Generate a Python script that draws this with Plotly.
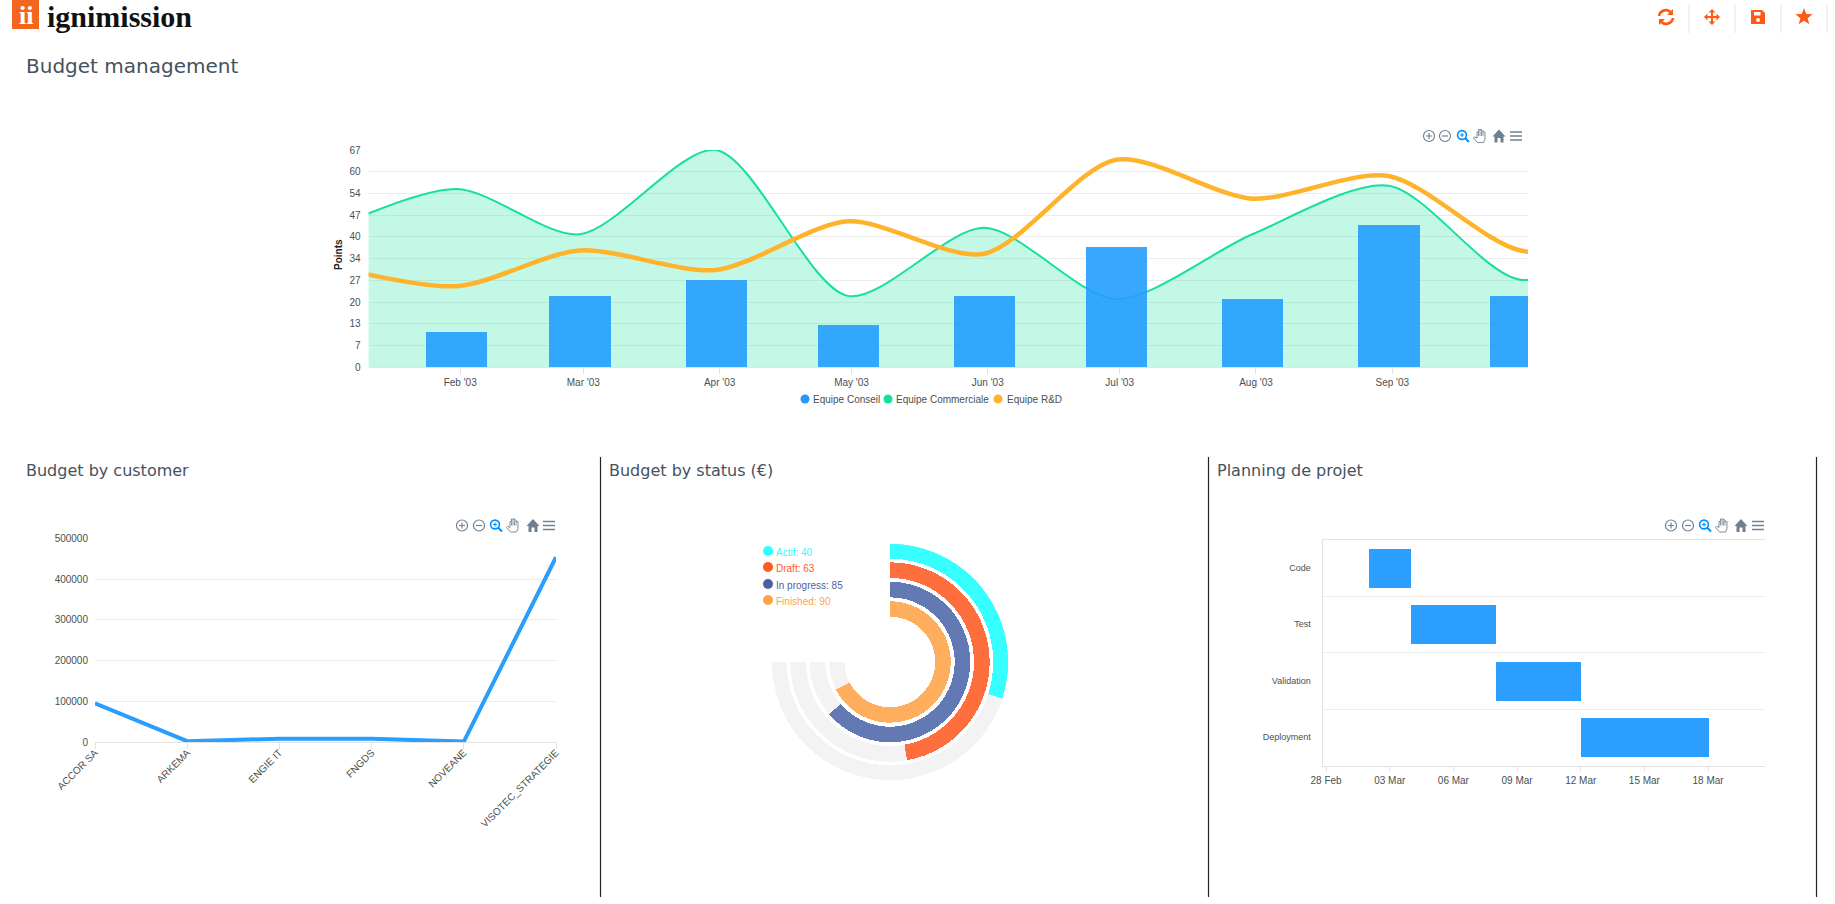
import re
import numpy as np
import plotly.graph_objects as go

W, H = 1835, 904

# ---- Budget management
months = ["2003-01-01","2003-02-01","2003-03-01","2003-04-01","2003-05-01","2003-06-01",
          "2003-07-01","2003-08-01","2003-09-01","2003-10-01","2003-11-01"]
conseil = [23, 11, 22, 27, 13, 22, 37, 21, 44, 22, 30]
commerciale = [41, 55, 41, 67, 22, 43, 21, 41, 56, 27, 43]
rnd = [32, 25, 36, 30, 45, 35, 64, 52, 59, 36, 39]
month_ticks = ["2003-02-01T20:00","2003-03-01T20:00","2003-04-01T20:00","2003-05-01T20:00",
               "2003-06-01T20:00","2003-07-01T20:00","2003-08-01T20:00","2003-09-01T20:00"]
month_labels = ["Feb '03","Mar '03","Apr '03","May '03","Jun '03","Jul '03","Aug '03","Sep '03"]
points_ticks = [0, 6.7, 13.4, 20.1, 26.8, 33.5, 40.2, 46.9, 53.6, 60.3, 67]
points_labels = ["0","7","13","20","27","34","40","47","54","60","67"]

# ---- Budget by customer
customers = ["ACCOR SA","ARKEMA","ENGIE IT","FNGDS","NOVEANE","VISOTEC_STRATEGIE"]
customer_budget = [95000, 2000, 8000, 8000, 1000, 454000]

# ---- Budget by status
status_names = ["Actif","Draft","In progress","Finished"]
status_values = [40, 63, 85, 90]
status_colors = ["#38FFFF","#FF6E3D","#6379B3","#FFAE5E"]
status_legend = ["#2BFFFF","#FF5A1F","#4C5FA0","#FFA347"]

# ---- Planning de projet
tasks = ["Code","Test","Validation","Deployment"]
task_start = ["2003-03-02","2003-03-04","2003-03-08","2003-03-12"]
task_end = ["2003-03-04","2003-03-08","2003-03-12","2003-03-18"]
plan_ticks = ["2003-02-28","2003-03-03","2003-03-06","2003-03-09","2003-03-12","2003-03-15","2003-03-18"]
plan_labels = ["28 Feb","03 Mar","06 Mar","09 Mar","12 Mar","15 Mar","18 Mar"]

TICK = dict(family="Liberation Sans", size=10, color="#4a4f52")
GRID = "#ececec"
AXIS = "#e2e2e2"
ORANGE = "#FF5A14"
ICON = "#6E8192"
TITLE = "#46525e"
SMOOTH = 0.8


def sx(p): return p / W
def sy(p): return 1 - p / H
def dx(a, b): return [sx(a), sx(b)]
def dy(top, bottom): return [sy(bottom), sy(top)]


def path(d):
    """Pixel SVG path -> paper path."""
    toks = re.findall(r"[MLCZ]|-?\d+\.?\d*", d)
    out = []
    is_x = True
    for t in toks:
        if t in "MLCZ":
            out.append(t)
            is_x = True
        else:
            v = float(t)
            out.append(f"{sx(v) if is_x else sy(v):.6f}")
            is_x = not is_x
    return " ".join(out)


shapes, annos = [], []


def add_path(d, color=None, fill=None, width=1.2):
    shapes.append(dict(type="path", xref="paper", yref="paper", path=path(d),
                       line=dict(color=color or "rgba(0,0,0,0)", width=width if color else 0),
                       fillcolor=fill or "rgba(0,0,0,0)", layer="above"))


def circle(cx, cy, r, color=None, fill=None, width=1.2):
    shapes.append(dict(type="circle", xref="paper", yref="paper", x0=sx(cx-r), x1=sx(cx+r),
                       y0=sy(cy+r), y1=sy(cy-r),
                       line=dict(color=color or "rgba(0,0,0,0)", width=width if color else 0),
                       fillcolor=fill or "rgba(0,0,0,0)", layer="above"))


def text(x, y, s, size=10, color="#4a4f52", family="Liberation Sans", anchor="left", **kw):
    annos.append(dict(x=sx(x), y=sy(y), xref="paper", yref="paper", text=s, showarrow=False,
                      xanchor=anchor, yanchor="middle", font=dict(size=size, color=color, family=family),
                      borderpad=0, **kw))


def toolbar(xs, y):
    a, b, c, d, e, f = xs
    circle(a, y, 5.5, ICON)
    add_path(f"M{a-3} {y} L{a+3} {y} M{a} {y-3} L{a} {y+3}", ICON)
    circle(b, y, 5.5, ICON)
    add_path(f"M{b-3} {y} L{b+3} {y}", ICON)
    circle(c-1, y-1, 4.4, "#008FFB", width=1.6)
    add_path(f"M{c+2} {y+2} L{c+6} {y+6}", "#008FFB", width=2)
    add_path(f"M{c-3} {y-1} L{c+1} {y-1} M{c-1} {y-3} L{c-1} {y+1}", "#008FFB", width=1)
    # hand
    add_path(f"M{d-2.5} {y+6.5} L{d-6.5} {y+2} L{d-5.5} {y+0.8} L{d-3} {y+2} L{d-3} {y-4} L{d-1.5} {y-4} L{d-1.5} {y-6.5} "
             f"L{d} {y-6.5} L{d} {y-6.5} L{d+1.5} {y-6.5} L{d+1.5} {y-5.5} L{d+3} {y-5.5} L{d+3} {y-4} L{d+5} {y-4} L{d+5} {y+3} L{d+3.5} {y+6.5} Z",
             ICON, "#ffffff", 0.9)
    add_path(f"M{d-1.5} {y-4} L{d-1.5} {y} M{d} {y-6} L{d} {y} M{d+1.5} {y-5} L{d+1.5} {y} M{d+3} {y-4} L{d+3} {y}", ICON, width=0.8)
    add_path(f"M{e-6.5} {y+0.5} L{e} {y-6.5} L{e+6.5} {y+0.5} L{e+4.5} {y+0.5} L{e+4.5} {y+6.5} L{e+1.5} {y+6.5} L{e+1.5} {y+2} "
             f"L{e-1.5} {y+2} L{e-1.5} {y+6.5} L{e-4.5} {y+6.5} L{e-4.5} {y+0.5} Z", fill=ICON)
    add_path(f"M{f-6} {y-4} L{f+6} {y-4} M{f-6} {y} L{f+6} {y} M{f-6} {y+4} L{f+6} {y+4}", ICON, width=1.3)


# ---- header decoration
shapes.append(dict(type="rect", xref="paper", yref="paper", x0=sx(12), x1=sx(39), y0=sy(29), y1=sy(0),
                   fillcolor="#F4661F", line=dict(width=0), layer="above"))
text(25.5, 15.5, "<b>ii</b>", size=26, color="#ffffff", family="Liberation Serif", anchor="center")
text(46, 16, "<b>ignimission</b>", size=30, color="#111111", family="Liberation Serif")
for sep in [1689, 1735, 1781, 1827]:
    add_path(f"M{sep} 4 L{sep} 33", "#e3e3e3", width=1)

x, y = 1666, 17
add_path(f"M{x-7} {y-1} C{x-6} {y-7} {x+2} {y-9} {x+5} {y-4}", ORANGE, width=2.6)
add_path(f"M{x+7} {y-8} L{x+7} {y-2} L{x+1} {y-2} Z", fill=ORANGE)
add_path(f"M{x+7} {y+1} C{x+6} {y+7} {x-2} {y+9} {x-5} {y+4}", ORANGE, width=2.6)
add_path(f"M{x-7} {y+8} L{x-7} {y+2} L{x-1} {y+2} Z", fill=ORANGE)
x = 1712
add_path(f"M{x-6} {y} L{x+6} {y} M{x} {y-6} L{x} {y+6}", ORANGE, width=2)
add_path(f"M{x-8} {y} L{x-4.5} {y-3.5} L{x-4.5} {y+3.5} Z M{x+8} {y} L{x+4.5} {y-3.5} L{x+4.5} {y+3.5} Z "
         f"M{x} {y-8} L{x-3.5} {y-4.5} L{x+3.5} {y-4.5} Z M{x} {y+8} L{x-3.5} {y+4.5} L{x+3.5} {y+4.5} Z", fill=ORANGE)
x = 1758
add_path(f"M{x-7} {y-7} L{x+4} {y-7} L{x+7} {y-4} L{x+7} {y+7} L{x-7} {y+7} Z", fill=ORANGE)
add_path(f"M{x-4} {y-5} L{x+2.5} {y-5} L{x+2.5} {y-1.5} L{x-4} {y-1.5} Z", fill="#ffffff")
circle(x, y+3, 2, fill="#ffffff")
x = 1804
ang = np.deg2rad(np.arange(0, 360, 36) - 90)
rad = np.where(np.arange(10) % 2 == 0, 9, 3.8)
add_path("M" + " L".join(f"{x+r*np.cos(t):.2f} {y+r*np.sin(t):.2f}" for r, t in zip(rad, ang)) + " Z", fill=ORANGE)

# ---- titles and dividers
TF = "DejaVu Sans"
text(25, 65.5, "Budget management", 20, TITLE, TF)
text(25, 470.5, "Budget by customer", 16, TITLE, TF)
text(608, 470.5, "Budget by status (€)", 16, TITLE, TF)
text(1216, 470.5, "Planning de projet", 16, TITLE, TF)
for v in [600.5, 1208.5, 1816.5]:
    add_path(f"M{v} 457 L{v} 897", "#222222", width=1.2)

toolbar([1429, 1445, 1463, 1480, 1499, 1516], 136)
toolbar([462, 479, 496, 513, 533, 549], 525.5)
toolbar([1671, 1688, 1705, 1722, 1741, 1758], 525.5)

# ---- chart legend
for cx, tx, col, s in [(805, 812, "#2E93FA", "Equipe Conseil"), (888, 895, "#17DFA0", "Equipe Commerciale"),
                       (998, 1006, "#FEB32B", "Equipe R&D")]:
    circle(cx, 399, 4.5, fill=col)
    text(tx, 399.5, s, 10, "#4a4f52")
for i, (n, v, c) in enumerate(zip(status_names, status_values, status_legend)):
    yy = [551, 567, 584, 600][i]
    circle(768, yy, 5, fill=c)
    text(775, yy+1, f"{n}: {v}", 10, c)

text(339, 255, "<b>Points</b>", 10, "#222222", "Liberation Sans", anchor="center", textangle=-90)

fig = go.Figure()

BAR_W = 13.9 * 86400000
fig.add_trace(go.Scatter(x=months, y=commerciale, mode="lines", name="Equipe Commerciale",
                         line=dict(color="#17DFA0", width=2, shape="spline", smoothing=SMOOTH),
                         fill="tozeroy", fillcolor="rgba(25,224,160,0.26)", xaxis="x", yaxis="y"))
fig.add_trace(go.Bar(x=months, y=conseil, width=BAR_W, name="Equipe Conseil",
                     marker=dict(color="rgba(36,157,254,0.9)", line=dict(width=0)), xaxis="x5", yaxis="y5"))
fig.add_trace(go.Scatter(x=months, y=rnd, mode="lines", name="Equipe R&D",
                         line=dict(color="#FEB32B", width=4.5, shape="spline", smoothing=SMOOTH), xaxis="x5", yaxis="y5"))

fig.add_trace(go.Scatter(x=customers, y=customer_budget, mode="lines",
                         line=dict(color="#2B9EFB", width=4), xaxis="x2", yaxis="y2", cliponaxis=False))

INNER = [103.3, 84, 64.7, 45.3]
THICK = [15, 15.7, 15.6, 15.4]
for i in range(4):
    fig.add_trace(go.Barpolar(r=[THICK[i]], base=[INNER[i]], theta=[135], width=[270],
                              marker=dict(color="#F3F3F3", line=dict(width=0)), subplot="polar"))
for i in range(4):
    a = status_values[i] * 2.7
    fig.add_trace(go.Barpolar(r=[THICK[i]], base=[INNER[i]], theta=[a / 2], width=[a],
                              marker=dict(color=status_colors[i], line=dict(width=0)), subplot="polar"))

starts = np.array(task_start, dtype="datetime64[ms]")
ends = np.array(task_end, dtype="datetime64[ms]")
fig.add_trace(go.Bar(y=list(range(len(tasks))), base=task_start,
                     x=(ends - starts).astype("int64").tolist(), orientation="h", width=0.69,
                     marker=dict(color="#2B9EFF", line=dict(width=0)), xaxis="x3", yaxis="y3"))

MAIN_RANGE = ["2003-01-12", "2003-10-02T17:00"]
NA = dict(automargin=False)
fig.update_layout(
    template="none",
    width=W, height=H, autosize=False, margin=dict(l=0, r=0, t=0, b=0, pad=0),
    paper_bgcolor="#ffffff", plot_bgcolor="#ffffff", showlegend=False, shapes=shapes, annotations=annos,
    bargap=0,
    xaxis=dict(domain=dx(368.6, 1528), type="date", range=MAIN_RANGE, tickvals=month_ticks, ticktext=month_labels,
               tickfont=TICK, ticks="outside", ticklen=6, tickcolor=AXIS, showgrid=False, showline=True,
               linecolor=AXIS, zeroline=False, anchor="y", **NA),
    yaxis=dict(domain=dy(150, 367.2), range=[0, 67], tickvals=points_ticks, ticktext=points_labels, tickfont=TICK,
               showgrid=True, gridcolor=GRID, gridwidth=1, zeroline=False, ticks="", ticklabelstandoff=7, anchor="x", **NA),
    xaxis5=dict(type="date", range=MAIN_RANGE, overlaying="x", visible=False, anchor="y5", domain=dx(368.6, 1528)),
    yaxis5=dict(range=[0, 67], overlaying="y", visible=False, anchor="x5", domain=dy(150, 367.2)),
    xaxis2=dict(domain=dx(95, 556), type="category", categoryorder="array", categoryarray=customers, range=[0, 5],
                tickangle=-45, tickfont=TICK, ticks="outside", ticklen=6, tickcolor=AXIS, showgrid=False,
                showline=True, linecolor=AXIS, zeroline=False, ticklabelstandoff=-6, anchor="y2", **NA),
    yaxis2=dict(domain=dy(538.5, 742), range=[0, 500000], dtick=100000, tickformat="d", tickfont=TICK, showgrid=True,
                gridcolor=GRID, zeroline=False, ticks="", ticklabelstandoff=6, anchor="x2", **NA),
    xaxis3=dict(domain=dx(1322.5, 1765), type="date", range=["2003-02-27T20:00", "2003-03-20T16:24"],
                tickvals=plan_ticks, ticktext=plan_labels, tickfont=TICK, ticks="outside", ticklen=5, tickcolor=AXIS,
                showgrid=False, showline=True, linecolor=AXIS, mirror=True, zeroline=False, anchor="y3", **NA),
    yaxis3=dict(domain=dy(539.5, 765.5), range=[3.5, -0.5], tickvals=list(range(len(tasks))), ticktext=tasks,
                tickfont=dict(family="Liberation Sans", size=9, color="#4a4f52"), showgrid=False, showline=True,
                linecolor=AXIS, zeroline=False, ticks="", ticklabelstandoff=9,
                minor=dict(tickvals=[0.5, 1.5, 2.5], showgrid=True, gridcolor=GRID, gridwidth=1), anchor="x3", **NA),
    polar=dict(domain=dict(x=dx(890-118.3, 890+118.3), y=dy(662-118.3, 662+118.3)), bgcolor="rgba(0,0,0,0)", barmode="overlay",
               radialaxis=dict(range=[0, 118.3], visible=False),
               angularaxis=dict(direction="clockwise", rotation=90, visible=False)),
)

fig.write_html("out.html", config=dict(displayModeBar=False),
               post_script="document.body.style.margin='0';document.documentElement.style.overflow='hidden';")
